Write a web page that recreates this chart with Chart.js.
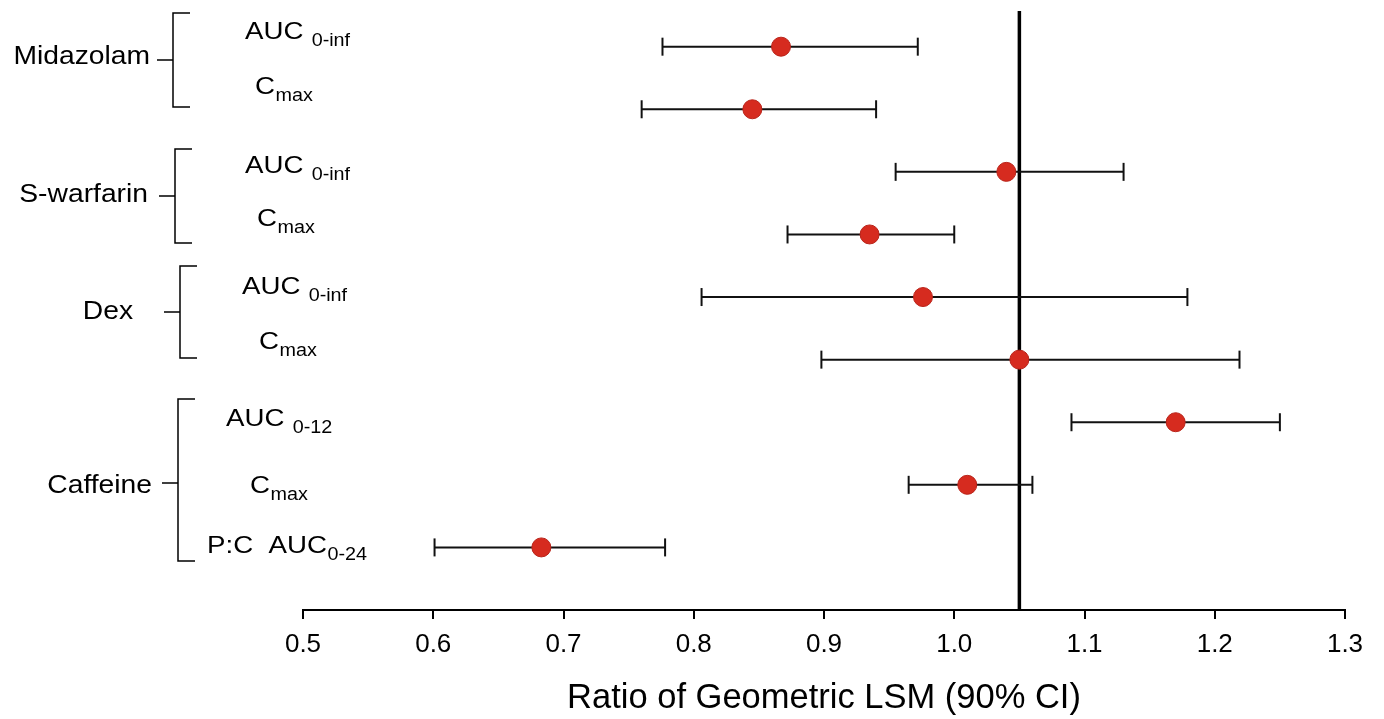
<!DOCTYPE html>
<html>
<head>
<meta charset="utf-8">
<title>Ratio of Geometric LSM</title>
<script src="https://cdn.jsdelivr.net/npm/chart.js@4.4.1/dist/chart.umd.min.js"></script>
<style>
  html, body { margin: 0; padding: 0; background: #fff; }
  #wrap { width: 1384px; height: 719px; }
</style>
</head>
<body>
<div id="wrap"><canvas id="forest" width="1384" height="719"></canvas></div>
<script>
// Data (row 1 = top)
const groups = ['Midazolam', 'S-warfarin', 'Dex', 'Caffeine'];
const groupRows = [[1, 2], [3, 4], [5, 6], [7, 9]];
const paramMain = ['AUC ', 'C', 'AUC ', 'C', 'AUC ', 'C', 'AUC ', 'C', 'P:C  AUC'];
const paramSub = ['0-inf', 'max', '0-inf', 'max', '0-inf', 'max', '0-12', 'max', '0-24'];
const estimate = [0.867, 0.845, 1.040, 0.935, 0.976, 1.050, 1.170, 1.010, 0.683];
const lower = [0.776, 0.760, 0.955, 0.872, 0.806, 0.898, 1.090, 0.965, 0.601];
const upper = [0.972, 0.940, 1.130, 1.000, 1.179, 1.219, 1.250, 1.060, 0.778];
const refRatio = 1.05;
const xTicks = [0.5, 0.6, 0.7, 0.8, 0.9, 1.0, 1.1, 1.2, 1.3];

// Layout tweaks for the left-hand labels (pixels relative to row centre)
const paramX = [245, 255, 245, 257, 242, 259, 226, 250, 207];
const paramDy = [-8, -15, 1, -8, -3, -11, 4, 8, 6];
const groupNameRight = [150, 148, 133, 152];
const groupNameY = [57, 195, 312, 486];
const bracketX = [173, 175, 180, 178];
const bracketTop = [13, 149, 266, 399];
const bracketBottom = [107, 243, 358, 561];
const bracketStubY = [60, 196, 312, 483];

const FONT = '"Liberation Sans", Arial, Helvetica, sans-serif';
const STRETCH = 1.13;
const yMin = 0.43, yMax = 10;

function stretchedText(ctx, text, x, y, size, align) {
  ctx.save();
  ctx.font = size + 'px ' + FONT;
  const w = ctx.measureText(text).width * STRETCH;
  const x0 = align === 'right' ? x - w : x;
  ctx.translate(x0, y);
  ctx.scale(STRETCH, 1);
  ctx.textAlign = 'left';
  ctx.fillText(text, 0, 0);
  ctx.restore();
  return w;
}

// Plugin: drug names, brackets and parameter labels on the left
const leftLabels = {
  id: 'leftLabels',
  afterDraw(chart) {
    const { ctx, scales: { y } } = chart;
    ctx.save();
    ctx.fillStyle = '#000';
    ctx.strokeStyle = '#000';
    ctx.lineWidth = 1.5;
    ctx.textBaseline = 'alphabetic';

    groups.forEach((g, gi) => {
      // bracket
      const bx = bracketX[gi];
      ctx.beginPath();
      ctx.moveTo(bx + 17, bracketTop[gi]);
      ctx.lineTo(bx, bracketTop[gi]);
      ctx.lineTo(bx, bracketBottom[gi]);
      ctx.lineTo(bx + 17, bracketBottom[gi]);
      ctx.moveTo(bx - 16, bracketStubY[gi]);
      ctx.lineTo(bx, bracketStubY[gi]);
      ctx.stroke();
      // name
      ctx.save();
      ctx.textBaseline = 'middle';
      stretchedText(ctx, g, groupNameRight[gi], groupNameY[gi], 25, 'right');
      ctx.restore();
    });

    paramMain.forEach((m, i) => {
      const base = y.getPixelForValue(i + 1) + paramDy[i];
      const w = stretchedText(ctx, m, paramX[i], base, 24.5, 'left');
      stretchedText(ctx, paramSub[i], paramX[i] + w + 0.5, base + 7, 17.5, 'left');
    });
    ctx.restore();
  }
};

// Datasets built from the arrays above
const ciSets = estimate.map((_, i) => ({
  type: 'scatter',
  data: [{ x: lower[i], y: i + 1 }, { x: upper[i], y: i + 1 }],
  showLine: true,
  borderColor: '#111',
  borderWidth: 2,
  pointStyle: 'line',
  rotation: 90,
  pointRadius: 9,
  pointHoverRadius: 9,
  pointBorderWidth: 2,
  pointBorderColor: '#111',
  order: 2
}));

const refSet = {
  type: 'scatter',
  data: [{ x: refRatio, y: yMin }, { x: refRatio, y: yMax }],
  showLine: true,
  borderColor: '#000',
  borderWidth: 3.5,
  pointRadius: 0,
  order: 3
};

const pointSet = {
  type: 'scatter',
  data: estimate.map((v, i) => ({ x: v, y: i + 1 })),
  pointStyle: 'circle',
  pointRadius: 9.5,
  backgroundColor: '#d62b1f',
  borderColor: '#b9241a',
  borderWidth: 1,
  order: 0
};

new Chart(document.getElementById('forest'), {
  type: 'scatter',
  data: { datasets: [pointSet, ...ciSets, refSet] },
  options: {
    responsive: false,
    animation: false,
    layout: { padding: { left: 303, right: 39, top: 9, bottom: 0 } },
    plugins: { legend: { display: false }, tooltip: { enabled: false } },
    scales: {
      x: {
        type: 'linear',
        min: 0.5,
        max: 1.3,
        afterFit(scale) { scale.height = 109; },
        afterBuildTicks(scale) { scale.ticks = xTicks.map(v => ({ value: v })); },
        ticks: {
          color: '#000',
          padding: 10,
          font: { family: FONT, size: 26 },
          callback: v => Number(v).toFixed(1)
        },
        grid: { drawOnChartArea: false, drawTicks: true, tickLength: 9, color: '#000', lineWidth: 2 },
        border: { display: true, color: '#000', width: 2 },
        title: {
          display: true,
          text: 'Ratio of Geometric LSM (90% CI)',
          color: '#000',
          font: { family: FONT, size: 34.5 },
          padding: { top: 0, bottom: 0 }
        }
      },
      y: {
        type: 'linear',
        reverse: true,
        min: yMin,
        max: yMax,
        display: false
      }
    }
  },
  plugins: [leftLabels]
});
</script>
</body>
</html>
